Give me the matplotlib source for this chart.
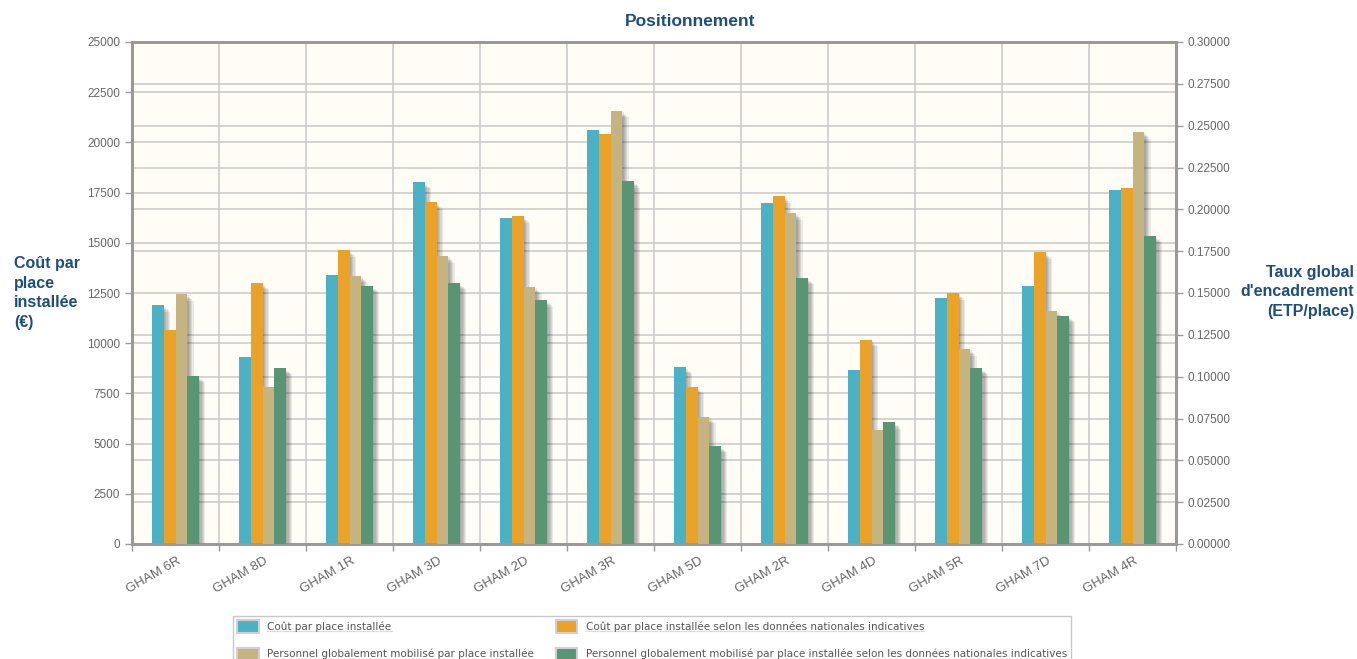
import numpy as np
import matplotlib
matplotlib.use("Agg")
import matplotlib.pyplot as plt
import matplotlib.patches as patches
import matplotlib.transforms as mtransforms
from matplotlib.lines import Line2D

# Data
categories = ["GHAM 6R", "GHAM 8D", "GHAM 1R", "GHAM 3D", "GHAM 2D", "GHAM 3R",
              "GHAM 5D", "GHAM 2R", "GHAM 4D", "GHAM 5R", "GHAM 7D", "GHAM 4R"]
cout = [11900, 9310, 13400, 18030, 16240, 20620, 8820, 16980, 8670, 12250, 12850, 17630]
cout_nat = [10660, 13000, 14640, 17030, 16330, 20420, 7820, 17330, 10160, 12500, 14540, 17730]
perso = [0.1494, 0.0938, 0.1602, 0.1721, 0.1536, 0.2588, 0.0759, 0.1978, 0.0681, 0.1165, 0.1392, 0.2462]
perso_nat = [0.1004, 0.1052, 0.1542, 0.1560, 0.1458, 0.2169, 0.0586, 0.1590, 0.0729, 0.1052, 0.1363, 0.1841]

labels = ["Coût par place installée",
          "Coût par place installée selon les données nationales indicatives",
          "Personnel globalement mobilisé par place installée",
          "Personnel globalement mobilisé par place installée selon les données nationales indicatives"]
colors = ["#4bb2c5", "#eaa228", "#c5b47f", "#579575"]

title_col = "#1d4e7e"
tick_col = "#666666"

plt.rcParams['font.family'] = ['Liberation Sans', 'DejaVu Sans']

fig = plt.figure(figsize=(13.57, 6.59), dpi=100)
ax = fig.add_axes([132 / 1357, 1 - 544 / 659, (1176 - 132) / 1357, (544 - 42) / 659])
ax2 = ax.twinx()
ax.set_facecolor("#fffdf6")

x = np.arange(len(categories))
w = 0.135
offs = [-1.5 * w, -0.5 * w, 0.5 * w, 1.5 * w]


def shadowed_bars(axis, xs, vals, color):
    # jqplot style drop shadow: several faint copies shifted down-right
    for k in range(1, 6):
        tr = axis.transData + mtransforms.ScaledTranslation(k * 1.3 / 100, -k * 1.3 / 100, fig.dpi_scale_trans)
        axis.bar(xs, vals, w, color="black", alpha=0.08, transform=tr, zorder=1, linewidth=0)
    return axis.bar(xs, vals, w, color=color, zorder=3, linewidth=0)


shadowed_bars(ax, x + offs[0], cout, colors[0])
shadowed_bars(ax, x + offs[1], cout_nat, colors[1])
shadowed_bars(ax2, x + offs[2], perso, colors[2])
shadowed_bars(ax2, x + offs[3], perso_nat, colors[3])

ax.set_xlim(-0.5, len(categories) - 0.5)
ax.set_ylim(0, 25000)
ax2.set_ylim(0, 0.3)

left_ticks = np.arange(0, 25001, 2500)
right_ticks = np.arange(0, 0.30001, 0.025)
ax.set_yticks(left_ticks)
ax.set_yticklabels([f"{v:d}" for v in left_ticks])
ax2.set_yticks(right_ticks)
ax2.set_yticklabels([f"{v:.5f}" for v in right_ticks])

# right axis gridlines drawn on the left axes so they stay under the bars
ax.set_yticks(right_ticks * 25000 / 0.3, minor=True)
ax.yaxis.grid(True, which="both", color="#cccccc", linewidth=1.2)
ax.set_xticks(np.arange(len(categories) + 1) - 0.5, minor=False)
ax.xaxis.grid(True, color="#cccccc", linewidth=1.2)
ax.set_xticklabels([])
ax.set_axisbelow(True)
ax.tick_params(axis="y", which="minor", length=0)
ax.tick_params(axis="both", which="major", colors="#999999", labelcolor=tick_col,
               labelsize=8.5, length=5, width=1)
ax2.tick_params(axis="y", colors="#999999", labelcolor=tick_col, labelsize=8.5, length=5, width=1)

for a in (ax, ax2):
    for s in a.spines.values():
        s.set_color("#999999")
        s.set_linewidth(2)

for i, c in enumerate(categories):
    ax.text(i + 0.02, -0.022, c, transform=mtransforms.blended_transform_factory(ax.transData, ax.transAxes),
            rotation=30, ha="right", va="top", rotation_mode="anchor",
            fontsize=9.5, color=tick_col)

fig.text(690 / 1357, 1 - 21 / 659, "Positionnement", ha="center", va="center",
         fontsize=12.5, fontweight="bold", color=title_col)
fig.text(14 / 1357, 1 - 293 / 659, "Coût par\nplace\ninstallée\n(€)", ha="left", va="center",
         fontsize=11.5, fontweight="bold", color=title_col, linespacing=1.4)
fig.text(1354 / 1357, 1 - 292 / 659, "Taux global\nd'encadrement\n(ETP/place)", ha="right",
         va="center", fontsize=11.5, fontweight="bold", color=title_col, linespacing=1.4)

handles = [patches.Patch(facecolor=c, edgecolor="#d0d0d0", linewidth=1.5) for c in colors]
order = [0, 2, 1, 3]
leg = fig.legend([handles[i] for i in order], [labels[i] for i in order], ncol=2,
                 loc="upper left", bbox_to_anchor=(233 / 1357, 1 - 616 / 659),
                 frameon=True, fancybox=False, edgecolor="#bbbbbb",
                 prop={"family": "DejaVu Sans", "size": 7.5},
                 handlelength=2.1, handleheight=1.45, handletextpad=0.8, columnspacing=2.05,
                 labelspacing=1.45, borderpad=0.4, borderaxespad=0)
leg.get_frame().set_linewidth(1)
for t in leg.get_texts():
    t.set_color("#555555")

# underline the legend labels
fig.canvas.draw()
r = fig.canvas.get_renderer()
for t in leg.get_texts():
    bb = t.get_window_extent(r)
    y = (bb.y0 + 0.5) / fig.bbox.height
    fig.add_artist(Line2D([bb.x0 / fig.bbox.width, bb.x1 / fig.bbox.width], [y, y],
                          transform=fig.transFigure, color="#555555", linewidth=0.8))

fig.savefig("out.png", dpi=100)
